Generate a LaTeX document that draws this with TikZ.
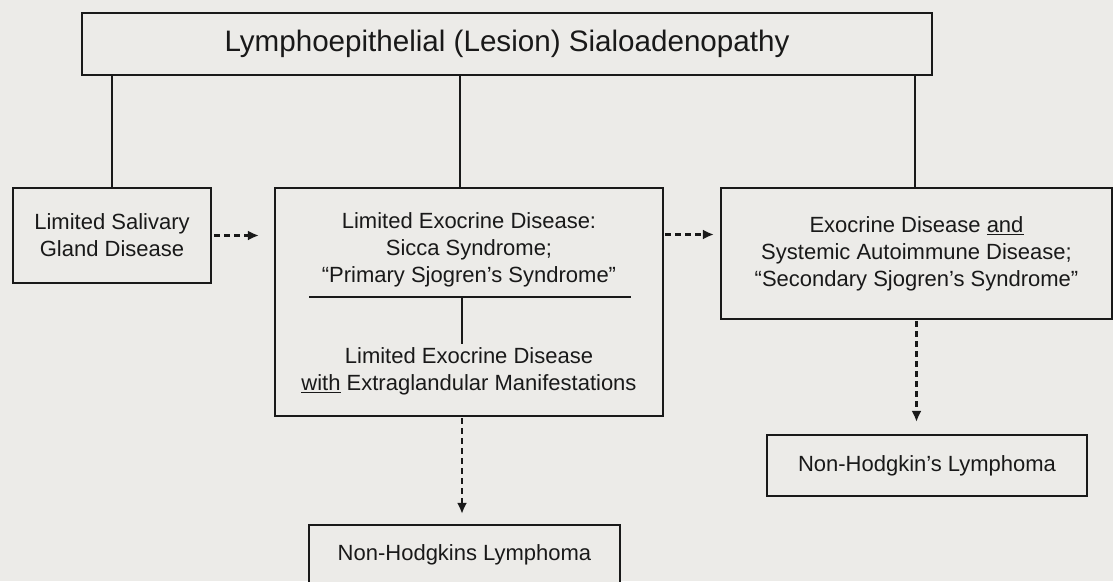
\documentclass[tikz,border=0pt]{standalone}
\usepackage{fontspec}
\setmainfont{Liberation Sans}
\usetikzlibrary{arrows.meta}
\definecolor{paper}{RGB}{236,235,232}
\definecolor{ink}{RGB}{25,25,25}

\begin{document}
\begin{tikzpicture}
            [
                x=1pt, y=-1pt,
                every node/.style={
                    text=ink, font=\fontsize{22}{27}\selectfont
                },
                box/.style={draw=ink, line width=2.2pt, fill=paper,
                    align=center, inner sep=0pt},
                link/.style={draw=ink, line width=2pt},
                thinlink/.style={draw=ink, line width=1.8pt},
                dasharrow/.style={draw=ink, line width=2.2pt,
                    dash pattern=on 6pt off 4pt,
                    -{Latex[length=11pt,width=10pt]}}
            ]
            
            \fill[paper] (0,0) rectangle (1113,581);
            \useasboundingbox (0,0) rectangle (1113,581);

            % boxes
            \node[box, minimum width=850pt, minimum height=62pt,
                font=\fontsize{29.6}{34}\selectfont]
                (top) at (507,44) {Lymphoepithelial (Lesion) Sialoadenopathy};
            \node[box, minimum width=198pt, minimum height=95pt]
                (left) at (112,235.5) {Limited Salivary\\Gland Disease};
            \node[box, minimum width=388pt, minimum height=228pt]
                (mid) at (469,302) {};
            \node[box, minimum width=391pt, minimum height=131pt]
                (right) at (916.5,253.5)
                {Exocrine Disease \underline{and}\\Systemic Autoimmune Disease;\\
                 ``Secondary Sjogren's Syndrome''};
            \node[box, minimum width=311pt, minimum height=60pt]
                (nhlmid) at (464.5,555) {Non-Hodgkins Lymphoma};
            \node[box, minimum width=320pt, minimum height=61pt]
                (nhlright) at (927,465.5) {Non-Hodgkin's Lymphoma};

            % texts inside the middle box
            \node[align=center] (midA) at (469,249.5)
                {Limited Exocrine Disease:\\Sicca Syndrome;\\
                 ``Primary Sjogren's Syndrome''};
            \node[align=center] (midB) at (469,371)
                {Limited Exocrine Disease\\
                 \underline{with} Extraglandular Manifestations};
            \coordinate (ruleL) at (309,297);
            \coordinate (ruleR) at (631,297);
            \coordinate (ruleC) at (462,297);
            \draw[thinlink] (ruleL) -- (ruleR);
            \draw[thinlink] (ruleC) -- (ruleC |- midB.north);

            % tree lines
            \draw[link] (left.north |- top.south) -- (left.north);
            \draw[link] ([xshift=-9pt]mid.north |- top.south)
                -- ([xshift=-9pt]mid.north);
            \draw[link] ([xshift=-2pt]right.north |- top.south)
                -- ([xshift=-2pt]right.north);

            % dashed arrows
            \draw[dasharrow, shorten <=2pt, shorten >=15pt]
                (left.east) -- (left.east -| mid.west);
            \draw[dasharrow, shorten <=1pt, shorten >=6pt]
                ([yshift=1pt]left.east -| mid.east)
                -- ([yshift=1pt]left.east -| right.west);
            \draw[dasharrow, shorten <=1pt, shorten >=10pt]
                (mid.south -| ruleC) -- (nhlmid.north -| ruleC);
            \draw[dasharrow, shorten <=1pt, shorten >=12pt]
                (right.south) -- (right.south |- nhlright.north);
            \end{tikzpicture}
\end{document}
